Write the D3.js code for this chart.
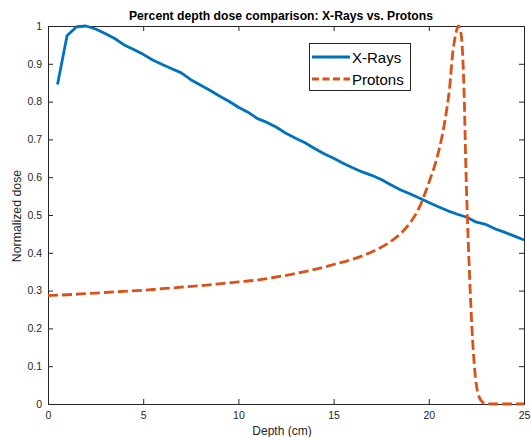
<!DOCTYPE html>
<html><head><meta charset="utf-8">
<script src="https://cdn.jsdelivr.net/npm/d3@7"></script>
<style>
body{margin:0;background:#fff;}
text{font-family:"Liberation Sans",Arial,Helvetica,sans-serif;}
</style></head>
<body><svg id="c" width="531" height="437"></svg>
<script>
const xrayDepth = [0.5,1,1.5,2,2.5,3,3.5,4,4.5,5,5.5,6,6.5,7,7.5,8,8.5,9,9.5,10,10.5,11,11.5,12,12.5,13,13.5,14,14.5,15,15.5,16,16.5,17,17.5,18,18.5,19,19.5,20,20.5,21,21.5,22,22.5,23,23.5,24,24.5,25];
const xrayDose = [0.845,0.974,0.998,1.0,0.992,0.98,0.967,0.95,0.938,0.925,0.91,0.898,0.887,0.876,0.858,0.844,0.83,0.815,0.801,0.785,0.772,0.755,0.745,0.732,0.716,0.703,0.691,0.676,0.662,0.65,0.637,0.625,0.614,0.605,0.594,0.58,0.567,0.556,0.545,0.533,0.522,0.511,0.502,0.494,0.481,0.475,0.463,0.454,0.444,0.434];
const protonDepth = [0,1,2,3,4,5,6,7,8,9,10,11,12,13,14,15,16,17,18,18.5,19,19.5,20,20.5,20.85,21.1,21.25,21.4,21.55,21.65,21.75,21.85,21.95,22.05,22.15,22.3,22.45,22.6,22.8,23,23.5,24,24.5,25];
const protonDose = [0.287,0.289,0.292,0.295,0.298,0.301,0.305,0.309,0.313,0.318,0.323,0.328,0.336,0.345,0.356,0.369,0.383,0.402,0.43,0.45,0.478,0.52,0.585,0.665,0.75,0.84,0.925,0.975,1.0,0.99,0.95,0.83,0.62,0.46,0.33,0.17,0.07,0.025,0.006,0.001,0,0,0,0];
const xTicks = [0,5,10,15,20,25];
const yTicks = [0,0.1,0.2,0.3,0.4,0.5,0.6,0.7,0.8,0.9,1];
const seriesNames = ["X-Rays","Protons"];
const colors = ["#0072BD","#D95319"];

const svg = d3.select("#c");
const L=48,R=524,T=26,B=404;
const x = d3.scaleLinear().domain([0,25]).range([L,R]);
const y = d3.scaleLinear().domain([0,1]).range([B,T]);
const axCol="#262626";

const gx = svg.append("g").attr("transform",`translate(0,${B})`)
  .call(d3.axisBottom(x).tickValues(xTicks).tickSize(-5).tickPadding(8).tickFormat(d3.format("d")));
const gxt = svg.append("g").attr("transform",`translate(0,${T})`)
  .call(d3.axisTop(x).tickValues(xTicks).tickSize(-5).tickFormat(""));
const gy = svg.append("g").attr("transform",`translate(${L},0)`)
  .call(d3.axisLeft(y).tickValues(yTicks).tickSize(-5).tickPadding(6).tickFormat(d=>d===0?"0":d===1?"1":d3.format(".1f")(d)));
const gyr = svg.append("g").attr("transform",`translate(${R},0)`)
  .call(d3.axisRight(y).tickValues(yTicks).tickSize(-5).tickFormat(""));
[gx,gxt,gy,gyr].forEach(g=>{
  g.select(".domain").attr("stroke",axCol).attr("stroke-width",1);
  g.selectAll(".tick line").attr("stroke",axCol).attr("stroke-width",1);
  g.selectAll(".tick text").attr("fill",axCol).style("font-size","10.5px").style("font-family","'Liberation Sans',Arial,sans-serif");
});

const line = d3.line().x(d=>x(d[0])).y(d=>y(d[1]));
svg.append("path").datum(xrayDepth.map((d,i)=>[d,xrayDose[i]]))
  .attr("d",line).attr("fill","none").attr("stroke",colors[0]).attr("stroke-width",2.8).attr("stroke-linejoin","round");
svg.append("path").datum(protonDepth.map((d,i)=>[d,protonDose[i]]))
  .attr("d",d3.line().x(d=>x(d[0])).y(d=>y(d[1])).curve(d3.curveMonotoneX))
  .attr("fill","none").attr("stroke",colors[1]).attr("stroke-width",2.8).attr("stroke-dasharray","10,4");

svg.append("text").attr("x",281).attr("y",20).attr("text-anchor","middle")
  .style("font-size","12.2px").style("font-weight","bold").attr("fill","#000")
  .text("Percent depth dose comparison: X-Rays vs. Protons");
svg.append("text").attr("x",282).attr("y",434.5).attr("text-anchor","middle")
  .style("font-size","12px").attr("fill",axCol).text("Depth (cm)");
svg.append("text").attr("transform",`translate(21,216) rotate(-90)`).attr("text-anchor","middle")
  .style("font-size","12.3px").attr("fill",axCol).text("Normalized dose");

const lg = svg.append("g");
lg.append("rect").attr("x",309.5).attr("y",43.5).attr("width",101).attr("height",47)
  .attr("fill","#fff").attr("stroke",axCol).attr("stroke-width",1);
seriesNames.forEach((n,i)=>{
  const yy = 57+i*22;
  lg.append("line").attr("x1",312).attr("x2",350).attr("y1",yy).attr("y2",yy)
    .attr("stroke",colors[i]).attr("stroke-width",2.8).attr("stroke-dasharray",i?"7,3.5":null);
  lg.append("text").attr("x",352).attr("y",yy+5.5).style("font-size","15px").attr("fill","#000").text(n);
});
</script></body></html>
